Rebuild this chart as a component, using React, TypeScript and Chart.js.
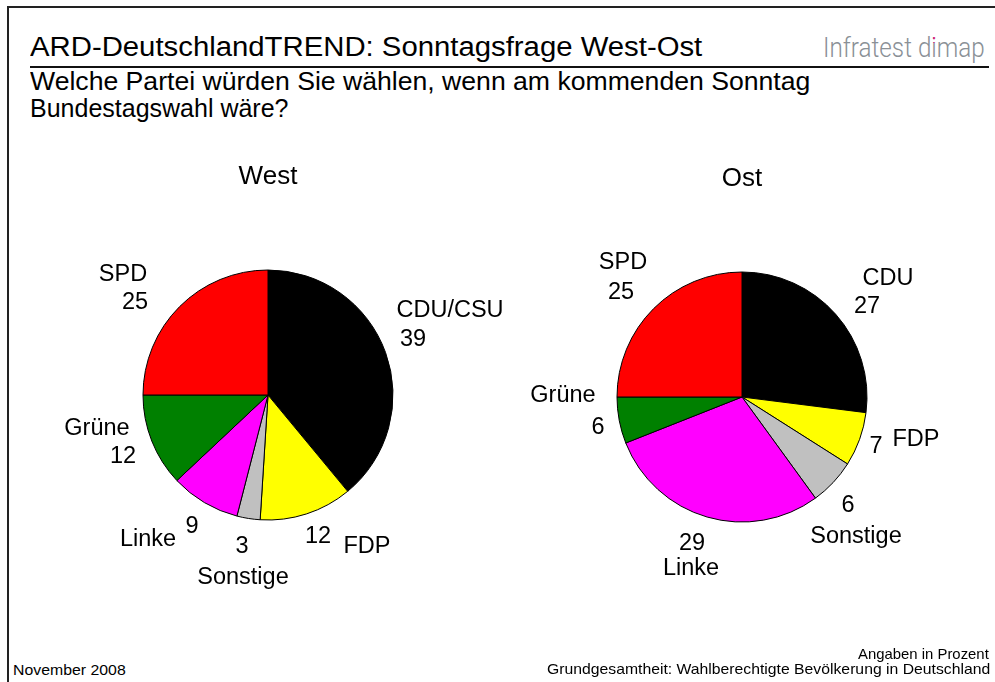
import React, { useEffect, useLayoutEffect, useRef } from "react";
import { Chart, registerables } from "chart.js";

Chart.register(...registerables);

// ---- data ----
const westParties = ["CDU/CSU", "FDP", "Sonstige", "Linke", "Grüne", "SPD"];
const westValues = [39, 12, 3, 9, 12, 25];
const ostParties = ["CDU", "FDP", "Sonstige", "Linke", "Grüne", "SPD"];
const ostValues = [27, 7, 6, 29, 6, 25];
const partyColors = ["#000000", "#ffff00", "#c0c0c0", "#ff00ff", "#008000", "#ff0000"];

// label offsets relative to pie centre: [nameDx, nameDy, valueDx, valueDy]
const westLabelPos = [
  [182, -84, 145, -55],
  [99, 152, 50, 142],
  [-25, 183, -26, 152],
  [-120, 145, -76, 132],
  [-171, 34, -145, 62],
  [-145, -120, -133, -92],
];
const ostLabelPos = [
  [146, -118, 125, -90],
  [174, 43, 134, 50],
  [114, 140, 106, 109],
  [-51, 172, -50, 147],
  [-179, -1, -144, 31],
  [-119, -134, -121, -104],
];

const FONT = "'Liberation Sans', Arial, sans-serif";

function makeLabelPlugin(title: string, pos: number[][]) {
  return {
    id: "pieLabels",
    afterDraw(chart: any) {
      const ctx = chart.ctx;
      const meta = chart.getDatasetMeta(0);
      const arc = meta.data[0];
      if (!arc) return;
      const cx = arc.x;
      const cy = arc.y;
      const labels = chart.data.labels as string[];
      const values = chart.data.datasets[0].data as number[];
      ctx.save();
      ctx.fillStyle = "#000";
      ctx.textAlign = "center";
      ctx.textBaseline = "middle";
      ctx.font = `26px ${FONT}`;
      ctx.fillText(title, cx, cy - 218);
      ctx.font = `23.5px ${FONT}`;
      labels.forEach((l, i) => {
        const p = pos[i];
        ctx.fillText(l, cx + p[0], cy + p[1]);
        ctx.fillText(String(values[i]), cx + p[2], cy + p[3]);
      });
      ctx.restore();
    },
  };
}

function Pie({ labels, values, title, pos, left, top }: any) {
  const ref = useRef<HTMLCanvasElement>(null);
  useEffect(() => {
    const chart = new Chart(ref.current!, {
      type: "pie",
      data: {
        labels,
        datasets: [
          {
            data: values,
            backgroundColor: partyColors,
            borderColor: "#000",
            borderWidth: 1,
            radius: 125,
          },
        ],
      },
      options: {
        animation: false,
        responsive: false,
        maintainAspectRatio: false,
        plugins: { legend: { display: false }, tooltip: { enabled: false } },
        layout: { padding: 0 },
      },
      plugins: [makeLabelPlugin(title, pos)],
    });
    return () => chart.destroy();
  }, []);
  return (
    <canvas
      ref={ref}
      width={500}
      height={500}
      style={{ position: "absolute", left, top, width: 500, height: 500 }}
    />
  );
}

// text positioned by baseline; optionally fitted to a target width
function Txt({ x, y, size, children, align = "left", color = "#000", family = FONT, w, weight = 400 }: any) {
  const ref = useRef<HTMLDivElement>(null);
  useLayoutEffect(() => {
    const el = ref.current;
    if (!el || !w) return;
    const nat = el.offsetWidth;
    el.style.transform = `scaleX(${w / nat})`;
  }, []);
  const top = y - size * 0.8465;
  const style: any = {
    position: "absolute",
    top,
    fontSize: size,
    lineHeight: `${size}px`,
    fontFamily: family,
    fontWeight: weight,
    color,
    whiteSpace: "nowrap",
    transformOrigin: align === "right" ? "right top" : "left top",
  };
  if (align === "right") style.right = 995 - x;
  else style.left = x;
  return (
    <div ref={ref} style={style}>
      {children}
    </div>
  );
}

export default function App() {
  return (
    <div
      style={{
        position: "absolute",
        left: 0,
        top: 0,
        width: 995,
        height: 682,
        background: "#fff",
        overflow: "hidden",
      }}
    >
      {/* frame */}
      <div style={{ position: "absolute", left: 7, top: 6, width: 995, height: 2, background: "#222" }} />
      <div style={{ position: "absolute", left: 7, top: 6, width: 2, height: 690, background: "#222" }} />
      {/* title underline */}
      <div style={{ position: "absolute", left: 30, top: 66, width: 959, height: 2, background: "#111" }} />

      <Txt x={30} y={57} size={27} w={672}>ARD-DeutschlandTREND: Sonntagsfrage West-Ost</Txt>
      <Txt x={985} y={58} size={28} w={162} align="right" color="#8a9096" family="Roboto, sans-serif" weight={300}>
        Infratest d
        <span style={{ position: "relative", display: "inline-block" }}>
          i
          <span
            style={{
              position: "absolute",
              left: 0,
              top: 0,
              color: "#e0157b",
              clipPath: "inset(0 0 70% 0)",
            }}
          >
            i
          </span>
        </span>
        map
      </Txt>
      <Txt x={30} y={90} size={25} w={780}>Welche Partei würden Sie wählen, wenn am kommenden Sonntag</Txt>
      <Txt x={30} y={117} size={25}>Bundestagswahl wäre?</Txt>

      <Pie labels={westParties} values={westValues} title="West" pos={westLabelPos} left={18} top={145} />
      <Pie labels={ostParties} values={ostValues} title="Ost" pos={ostLabelPos} left={492} top={147} />

      <Txt x={13} y={675} size={15} w={113}>November 2008</Txt>
      <Txt x={989} y={659} size={15} w={131} align="right">Angaben in Prozent</Txt>
      <Txt x={990} y={674} size={15} w={443} align="right">Grundgesamtheit: Wahlberechtigte Bevölkerung in Deutschland</Txt>
    </div>
  );
}
